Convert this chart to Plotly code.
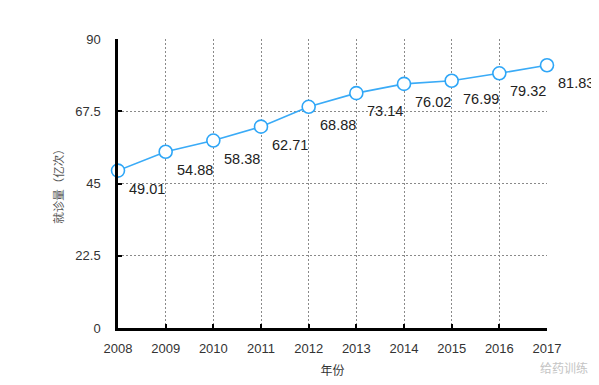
import plotly.graph_objects as go

years = [2008, 2009, 2010, 2011, 2012, 2013, 2014, 2015, 2016, 2017]
visits = [49.01, 54.88, 58.38, 62.71, 68.88, 73.14, 76.02, 76.99, 79.32, 81.83]
y_ticks = [0, 22.5, 45, 67.5, 90]
y_tick_text = ["0", "22.5", "45", "67.5", "90"]

FONT = "Liberation Sans, Arial, Helvetica, sans-serif"

fig = go.Figure()
fig.add_trace(go.Scatter(
    x=years, y=visits, mode="lines+markers",
    line=dict(color="#3aabf7", width=1.6),
    marker=dict(size=13, color="white", line=dict(color="#2ea6f7", width=1.6)),
    cliponaxis=False, hoverinfo="x+y",
))

for yr, v in zip(years, visits):
    fig.add_annotation(x=yr, y=v, text=f"{v:.2f}", showarrow=False,
                       xshift=29, yshift=-18,
                       font=dict(size=14.5, color="#222", family=FONT))

fig.add_annotation(x=1.1, y=-0.135, xref="paper", yref="paper",
                   text="给药训练", showarrow=False, xanchor="right", yanchor="middle",
                   font=dict(size=12, color="#c4c4c4", family="Noto Sans CJK SC"))

fig.update_layout(
    width=599, height=385,
    margin=dict(l=110, r=60, t=31, b=65),
    paper_bgcolor="white", plot_bgcolor="white",
    showlegend=False,
    font=dict(family=FONT, size=13, color="#333"),
    xaxis=dict(
        range=[2008, 2017], tickvals=years, ticktext=[str(y) for y in years],
        showline=True, linecolor="black", linewidth=2.5,
        ticks="inside", ticklen=4, tickwidth=2, tickcolor="black",
        showgrid=True, gridcolor="#8a8a8a", griddash="2px,2px", gridwidth=1,
        zeroline=False, ticklabelstandoff=7,
        tickfont=dict(size=13, color="#333", family=FONT),
        title=dict(text="年份", font=dict(size=12, color="#333", family="Noto Sans CJK SC"), standoff=12),
    ),
    yaxis=dict(
        range=[0, 90], tickvals=y_ticks, ticktext=y_tick_text,
        showline=True, linecolor="black", linewidth=2.5,
        ticks="inside", ticklen=4, tickwidth=2, tickcolor="black",
        showgrid=True, gridcolor="#8a8a8a", griddash="2px,2px", gridwidth=1,
        zeroline=False, ticklabelstandoff=12,
        tickfont=dict(size=13, color="#333", family=FONT),
        title=dict(text="就诊量（亿次）", font=dict(size=11.5, color="#555", family="Noto Sans CJK SC"), standoff=10),
    ),
)

fig.write_html("out.html")
